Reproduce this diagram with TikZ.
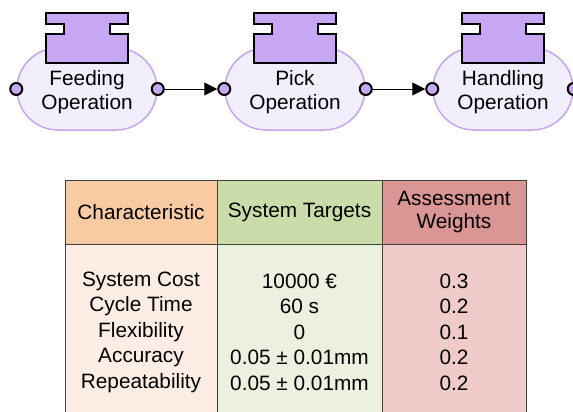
\documentclass[tikz,border=0pt]{standalone}
\usepackage{fontspec}
\setmainfont{Liberation Sans}
\usetikzlibrary{arrows.meta}

\definecolor{opfill}{HTML}{F3EEFC}
\definecolor{opline}{HTML}{C4A6EE}
\definecolor{blockfill}{HTML}{C7A6F2}
\definecolor{tabline}{HTML}{404040}
\definecolor{charhead}{HTML}{F8CBA3}
\definecolor{charbody}{HTML}{FDEDE3}
\definecolor{targhead}{HTML}{CADCAA}
\definecolor{targbody}{HTML}{EBF0DF}
\definecolor{weighthead}{HTML}{D99694}
\definecolor{weightbody}{HTML}{F0CBCA}

\tikzset{
  operation/.style={draw=opline, fill=opfill, line width=1.5pt, rounded corners=41pt,
    minimum width=140pt, minimum height=82pt},
  optext/.style={align=center, font=\fontsize{20.8}{24}\selectfont},
  opblock/.style={draw=black, fill=blockfill, line width=2pt, line join=miter},
  port/.style={circle, draw=black, fill=blockfill, line width=2pt, minimum size=12pt, inner sep=0pt},
  flow/.style={-{Triangle[length=13pt,width=13pt]}, line width=1pt},
  cell/.style={draw=tabline, line width=1pt, align=center, inner sep=0pt},
  headcell/.style={cell, minimum height=64pt, font=\fontsize{20.8}{23}\selectfont},
  bodycell/.style={cell, minimum height=176pt, font=\fontsize{20.8}{25.5}\selectfont},
}

\begin{document}
\begin{tikzpicture}[x=1pt, y=-1pt]
\useasboundingbox (0,0) rectangle (573,412);

% operations
\node[operation] (feed) at (87,89) {};
\node[operation] (pick) at (295,89) {};
\node[operation] (handle) at (503,89) {};

\foreach \cx in {87,295,503}
  \draw[opblock] (\cx-41,13) -- (\cx+41,13) -- (\cx+41,24) -- (\cx+23,24) -- (\cx+23,34)
    -- (\cx+41,34) -- (\cx+41,63) -- (\cx-41,63) -- (\cx-41,34) -- (\cx-23,34)
    -- (\cx-23,24) -- (\cx-41,24) -- cycle;

\node[optext] (feedtext) at (87,92) {Feeding\\Operation};
\node[optext] (picktext) at (295,92) {Pick\\Operation};
\node[optext] (handletext) at (503,92) {Handling\\Operation};

\node[port] (feedin) at (feed.west) {};
\node[port] (feedout) at (feed.east) {};
\node[port] (pickin) at (pick.west) {};
\node[port] (pickout) at (pick.east) {};
\node[port] (handlein) at (handle.west) {};
\node[port] (handleout) at (handle.east) {};

\draw[flow] (feedout) -- (pickin);
\draw[flow] (pickout) -- (handlein);

% table
\node[bodycell, fill=charbody, minimum width=152pt] (charb) at (141,332)
  {System Cost\\Cycle Time\\Flexibility\\Accuracy\\Repeatability};
\node[bodycell, fill=targbody, minimum width=165pt] (targb) at (299.5,332)
  {10000 €\\60 s\\0\\0.05 ± 0.01mm\\0.05 ± 0.01mm};
\node[bodycell, fill=weightbody, minimum width=144pt] (weightb) at (454,332)
  {0.3\\0.2\\0.1\\0.2\\0.2};
\node[headcell, fill=charhead, minimum width=152pt] (charh) at (141,212) {Characteristic};
\node[headcell, fill=targhead, minimum width=165pt] (targh) at (299.5,212) {System Targets};
\node[headcell, fill=weighthead, minimum width=144pt] (weighth) at (454,212) {Assessment\\Weights};
\end{tikzpicture}
\end{document}
